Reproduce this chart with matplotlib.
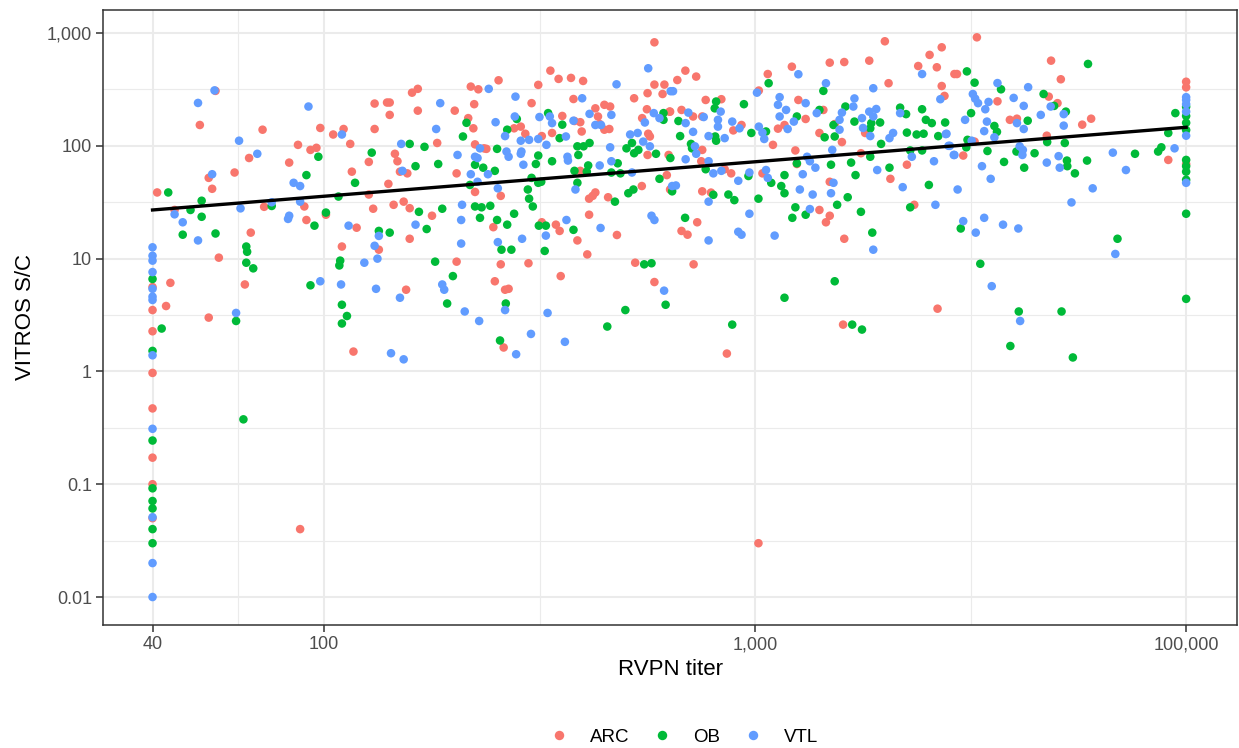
import numpy as np
import matplotlib
matplotlib.use("Agg")
import matplotlib.pyplot as plt
from matplotlib.lines import Line2D

# ---------------- data (RVPN titer, VITROS S/C) ----------------
groups = ["ARC", "OB", "VTL"]
colors = ["#F8766D", "#00BA38", "#619CFF"]

arc = [(56,307),(51.5,153),(72,139),(98,144),(105,126),(111,141),(115,104),(131,237),(140,242),(142,242),(142,188),(131,141),(87,102),(93,92),(96,96),(67,78),(83,71),(127,72),(116,59),(62,58),(54,52),(55,41.6),(41,38.6),(45,27),(72.6,28.8),(90,29),(91,22),(101,24.5),(127,37),(130,27.7),(119,18.8),(134,12),(110,12.8),(67.6,17),(57,10.2),(44,6.1),(43,3.8),(54,3.0),(65.5,5.9),(40,5.6),(40,3.5),
(40,2.27),(40,0.97),(40,0.47),(40,0.172),(40,0.10),(40,0.05),(88,0.04),(117,1.5),(261,1.63),(860,1.44),(1600,2.6),(1018,0.03),
(3270,916),(4860,569),(5120,389),(2940,433),(3650,248),(4800,273),(5030,239),(3900,170),(4050,174),(5740,154),(6020,174),(4750,123),(3230,109),(3040,82),(9090,75),(100000,370),(100000,330),(100000,69),
(2000,845),(2710,747),(2540,640),(2390,510),(2640,497),(2900,433),(1840,569),(1490,546),(1610,553),(1217,503),(1070,433),(2040,359),(1020,309),(689,464),(660,383),(730,411),(768,255),(835,259),(1260,255),(1310,173),(1130,142),(1170,153),(1440,208),(1530,156),(1800,130),(1410,130),(1590,108),(2710,339),(2750,277),(2250,68),(2060,51),(2340,30),(1760,86),(1240,91),(1250,69),(1040,57),(1490,48),(1410,27),(1490,24),(1460,21),(1610,15),(2650,3.6),(720,8.9),(675,17.6),(697,16.3),(734,21),(754,39.5),(790,38.5),(635,41),(880,57),(850,62),(750,73),(754,92),(630,83),(718,182),(675,208),(635,201),(754,182),(890,137),(930,153),(1100,102),
(584,827),(335,464),(350,392),(374,400),(399,376),(314,347),(254,381),(219,335),(228,317),(165,320),(160,296),(524,264),(563,293),(584,349),(616,349),(610,288),(379,260),(303,239),(223,234),(201,205),(165,205),(183,106),(146,85),(148,73),(150,59),(156,57),(141,46),(203,57),(216,176),(222,143),(224,103),(235,95),(224,39),(238,94),(276,143),(286,148),(293,128),(257,36),(320,122),(357,184),(338,130),(396,134),(393,162),(381,166),(426,215),(447,231),(461,223),(432,182),(436,156),(447,139),(459,141),(393,60),(412,34),(426,38.6),(420,36),(456,35),(412,24.5),(546,44),(547,176),(561,211),(633,201),(565,128),(570,121),(563,83),(624,55),(637,41),(527,9.2),(584,6.2),(478,16.2),(408,10.9),(387,14.5),(352,17.6),(345,20),(320,21),(298,9.1),(354,7),(247,19),(203,9.4),(155,5.3),(178,24),(158,15),(153,32),(158,28),(145,30),(263,5.3),(268,5.4),(249,6.3),(257,8.9)]

ob = [(97,80),(129,87),(118,47),(91,55),(43.5,38.6),(52,32.6),(49,27),(52,23.5),(47,16.3),(56,16.7),(75.6,29.3),(95,19.6),(101,25.6),(108,35.5),(134,17.6),(142,17),(109,9.6),(108.5,8.7),(110,3.9),(113,3.1),(93,5.8),(66,12.8),(66.3,11.5),(66,9.2),(68.5,8.2),(40,6.6),
(42,2.4),(40,1.52),(40,0.244),(40,0.092),(40,0.071),(40,0.061),(40,0.04),(40,0.03),(62.5,2.8),(65,0.376),(110,2.66),(256,1.88),(454,2.5),(885,2.6),(1680,2.6),(1770,2.35),(3910,1.68),(5460,1.33),
(5920,532),(3100,457),(3230,363),(3720,317),(4670,288),(4940,226),(3170,195),(4290,167),(5260,201),(3590,150),(3640,133),(4760,108),(5230,106),(3090,97),(3110,113),(3460,90),(4040,89),(4450,86),(5290,74),(5300,66),(5520,57),(5890,74),(3780,72),(4210,64),(7610,85),(8610,89),(8760,97),(9090,130),(9440,195),(3000,18.5),(6930,15),(3330,9),(4090,3.4),(5140,3.4),(100000,222),(100000,184),(100000,160),(100000,138),(100000,75),(100000,66),(100000,59),(100000,50),(100000,25),(100000,4.4),
(1075,359),(1440,307),(812,247),(806,215),(942,234),(1250,182),(1410,208),(1620,223),(1520,153),(1700,164),(1860,159),(1950,161),(1850,143),(1450,119),(1530,121),(1960,104),(2170,218),(2240,191),(2440,211),(2490,170),(2570,159),(2760,161),(2250,131),(2370,126),(2460,128),(2660,122),(2290,91),(2440,91),(2050,64),(2530,45),(2290,28.5),(1850,80),(1670,71),(1710,55),(1500,68),(1250,70),(1170,55),(1090,47),(1150,44),(1170,38),(1640,35),(1550,30),(1310,24.5),(1220,23),(1240,28.5),(1760,26),(1870,17),(1530,6.3),(1170,4.5),(688,23),(1018,34),(867,37),(895,33),(800,36.8),(642,39.5),(965,54),(768,62),(710,104),(714,95),(636,78),(670,122),(664,166),(812,111),(808,121),(980,130),(1060,134),(620,3.9),
(158,104),(163,66),(171,98),(184,69),(214,160),(210,121),(224,68),(234,64),(218,45),(249,60),(252,94),(266,139),(280,173),(297,41),(299,34),(305,29),(314,82),(310,69),(331,195),(357,154),(352,117),(338,73),(303,52),(314,47),(319,48),(387,99),(389,83),(400,99),(413,106),(480,70),(410,67),(407,59),(381,60),(387,47),(473,32),(464,58),(487,57),(508,38),(522,41),(503,95),(518,106),(524,86),(536,92),(613,195),(613,170),(589,85),(600,51),(553,8.9),(575,9.1),(379,18),(315,19.6),(327,19.6),(325,11.7),(500,3.5),(258,12),(272,12),(266,20),(252,22),(276,25),(230,23),(224,29),(232,28.5),(243,29.4),(181,9.4),(199,7),(193,4.0),(173,18.3),(166,26),(188,27.7),(264,4)]

vtl = [(55.7,310),(51,240),(92,223),(63.5,111),(110,126),(70,85),(55,56),(85,47),(88,44),(45,24.7),(47,21),(51,14.5),(64,27.9),(75.6,31.6),(88,32),(82.5,22.5),(83,24),(114,19.6),(134,15.9),(131,13),(133,10),(124,9.2),(109.5,5.9),(98,6.3),(132,5.4),(62.5,3.3),(40,12.6),(40,10.6),(40,9.6),(40,7.6),(40,5.4),(40,4.6),(40,4.3),
(40,1.39),(40,0.31),(40,0.051),(40,0.02),(40,0.01),(143,1.45),(153,1.28),(229,2.8),(279,1.42),(302,2.15),(362,1.83),(4120,2.8),
(3650,360),(4300,331),(3200,288),(3240,262),(3290,239),(3420,211),(3480,245),(3980,266),(4850,223),(4200,226),(3070,170),(3450,164),(4050,159),(4600,188),(5200,191),(5200,151),(3400,135),(3590,119),(4200,141),(3180,111),(2810,100),(2900,83),(2780,128),(4110,99),(4180,92),(4170,83),(5060,81),(4750,71),(5090,64),(3360,66),(3520,51),(2950,41),(6070,42),(5420,31.5),(6760,87),(7250,61),(9400,95),(3040,21.5),(3250,17),(3400,23),(3760,20),(4080,18.5),(6850,11),(3540,5.7),(100000,270),(100000,255),(100000,234),(100000,201),(100000,123),(100000,47),
(2440,433),(1260,431),(1880,324),(1460,359),(1010,296),(645,305),(1140,270),(1130,231),(1180,208),(1140,182),(1310,239),(1230,164),(1190,141),(1390,195),(1700,263),(1690,223),(1590,197),(1570,170),(1570,139),(1770,176),(1840,201),(1910,212),(1880,182),(1780,144),(1850,122),(1510,92),(2090,130),(2050,117),(2170,195),(2690,259),(2770,127),(2830,100),(2890,83),(2310,80),(2600,73),(1920,61),(2200,43),(2620,30),(1380,64),(1340,73),(1320,80),(1290,56),(1060,61),(1070,52),(1270,41),(1360,37),(1500,38),(1520,47),(1340,27.5),(1880,12),(1110,16),(780,14.5),(914,17.3),(930,16.3),(970,25),(780,32),(655,44.5),(914,49),(970,58),(835,60),(800,57),(780,73),(730,85),(725,99),(690,76),(718,133),(690,159),(700,197),(760,180),(780,122),(820,148),(820,170),(832,201),(850,117),(885,164),(920,143),(1020,148),(1050,115),(1040,131),(615,5.2),
(565,487),(241,320),(477,351),(637,305),(397,264),(186,239),(278,273),(182,141),(151,104),(152,60),(204,83),(230,95),(224,80),(227,78),(219,56),(227,48),(240,56),(250,162),(263,122),(277,182),(286,111),(287,89),(286,85),(290,68),(265,89),(268,80),(253,42),(299,113),(314,115),(316,180),(334,182),(338,159),(328,102),(364,121),(367,80),(368,74),(379,167),(413,192),(426,153),(439,153),(464,188),(461,97),(464,73),(436,67),(383,41),(518,58),(513,126),(534,130),(582,195),(600,176),(555,161),(550,109),(570,99),(642,44),(575,24),(584,22),(438,18.7),(365,22),(327,16),(330,3.3),(253,14),(288,15),(209,30),(208,22),(188,5.9),(190,5.3),(208,13.6),(212,3.4),(150,4.5),(163,20),(263,3.5)]

# overall regression line (log-log), read at its two ends
fit_titer = [40, 100000]
fit_sc = [27, 146]

x_ticks = [40, 100, 1000, 100000]
x_tick_labels = ["40", "100", "1,000", "100,000"]
y_ticks = [0.01, 0.1, 1, 10, 100, 1000]
y_tick_labels = ["0.01", "0.1", "1", "10", "100", "1,000"]

# the top titer (100,000) sits one decade above 1,000 on the drawn axis
TOP_TITER = 100000
TOP_POS = 10000


def axis_pos(x):
    x = np.asarray(x, dtype=float)
    return np.where(x >= TOP_TITER, TOP_POS, x)


plt.rcParams["font.family"] = ["Liberation Sans", "DejaVu Sans"]
fig = plt.figure(figsize=(12.39, 7.48), dpi=100)
ax = fig.add_axes([103 / 1239, 1 - 625 / 748, (1237 - 103) / 1239, (625 - 10) / 748])

ax.set_xscale("log")
ax.set_yscale("log")
ax.set_xlim(30.7, 13122)
ax.set_ylim(0.00565, 1600)

# grid
maj_x = axis_pos(x_ticks)
lmaj = np.log10(maj_x)
min_x = 10 ** ((lmaj[:-1] + lmaj[1:]) / 2)
min_y = 10 ** ((np.log10(y_ticks[:-1]) + np.log10(y_ticks[1:])) / 2)
for v in maj_x:
    ax.axvline(v, color="#EBEBEB", lw=1.5, zorder=0)
for v in min_x:
    ax.axvline(v, color="#EBEBEB", lw=0.8, zorder=0)
for v in y_ticks:
    ax.axhline(v, color="#EBEBEB", lw=1.5, zorder=0)
for v in min_y:
    ax.axhline(v, color="#EBEBEB", lw=0.8, zorder=0)

for name, col, pts in zip(groups, colors, [arc, ob, vtl]):
    xs = np.array([p[0] for p in pts], dtype=float)
    ys = np.array([p[1] for p in pts], dtype=float)
    ax.scatter(axis_pos(xs), ys, s=38, color=col, edgecolors="none", zorder=2)

ax.plot(axis_pos(fit_titer), fit_sc, color="black", lw=2.4, zorder=3)

ax.set_xticks(maj_x)
ax.set_xticklabels(x_tick_labels)
ax.set_yticks(y_ticks)
ax.set_yticklabels(y_tick_labels)
ax.xaxis.set_minor_locator(matplotlib.ticker.NullLocator())
ax.yaxis.set_minor_locator(matplotlib.ticker.NullLocator())
ax.tick_params(axis="both", length=5, width=1.1, color="#333333",
               labelcolor="#4D4D4D", labelsize=13, pad=3)

for sp in ax.spines.values():
    sp.set_color("#333333")
    sp.set_linewidth(1.1)

ax.set_xlabel("RVPN titer", fontsize=16, labelpad=4)
ax.set_ylabel("VITROS S/C", fontsize=16, labelpad=8)

handles = [Line2D([0], [0], marker="o", linestyle="none", markersize=6.8,
                  markerfacecolor=c, markeredgecolor="none") for c in colors]
fig.legend(handles, groups, loc="center", bbox_to_anchor=(683 / 1239, 1 - 737 / 748),
           ncol=3, frameon=False, fontsize=13.5, handletextpad=1.05, columnspacing=1.15,
           handlelength=1.2)

fig.savefig("out.png", dpi=100)
